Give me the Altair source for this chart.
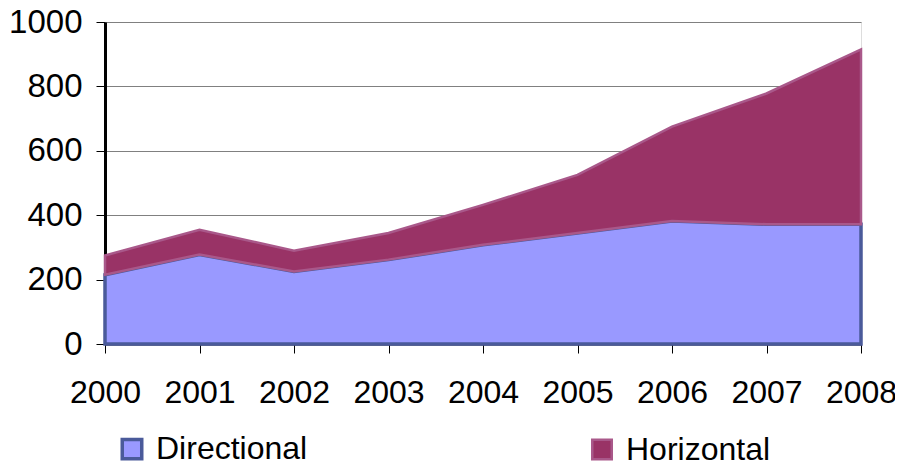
import altair as alt
import pandas as pd

years = [2000, 2001, 2002, 2003, 2004, 2005, 2006, 2007, 2008]
directional = [215, 278, 225, 262, 308, 345, 382, 372, 372]
horizontal = [60, 77, 65, 83, 124, 180, 293, 406, 543]
series = ["Directional", "Horizontal"]
fill_colors = ["#9999FF", "#993366"]
stroke_colors = ["#4A5A9A", "#A9588A"]
stroke_widths = [3.5, 2.5]
y_ticks = [0, 200, 400, 600, 800, 1000]

rows = []
for i, y in enumerate(years):
    rows.append({"year": y, "series": "Directional", "value": directional[i], "order": 0})
    rows.append({"year": y, "series": "Horizontal", "value": horizontal[i], "order": 1})
df = pd.DataFrame(rows)

FONT = "Liberation Sans"

chart = alt.Chart(df).mark_area(strokeJoin="miter").encode(
    x=alt.X("year:Q", scale=alt.Scale(domain=[2000, 2008], nice=False, zero=False),
            axis=alt.Axis(values=years, format="d", title=None, grid=False,
                          labelFontSize=32, labelFont=FONT, labelColor="#000000",
                          tickSize=9, tickColor="#000000", tickWidth=1,
                          domainColor="#000000", domainWidth=2, labelPadding=24,
                          labelFlush=False)),
    y=alt.Y("value:Q", stack="zero", scale=alt.Scale(domain=[0, 1000], nice=False),
            axis=alt.Axis(values=y_ticks, format="d", title=None, grid=True, gridColor="#808080",
                          gridWidth=1, labelFontSize=33, labelFont=FONT, labelColor="#000000",
                          tickSize=9, tickColor="#000000", tickWidth=1,
                          domainColor="#000000", domainWidth=3, labelPadding=14)),
    fill=alt.Fill("series:N", scale=alt.Scale(domain=series, range=fill_colors),
                  legend=alt.Legend(title=None, orient="none", legendX=11, legendY=411,
                                    direction="horizontal", columns=2, columnPadding=278,
                                    symbolType="square", symbolSize=380, symbolStrokeWidth=3,
                                    labelFont=FONT, labelFontSize=32, labelColor="#000000",
                                    labelOffset=8, padding=0)),
    stroke=alt.Stroke("series:N", scale=alt.Scale(domain=series, range=stroke_colors)),
    strokeWidth=alt.StrokeWidth("series:N", scale=alt.Scale(domain=series, range=stroke_widths),
                                legend=None),
    order=alt.Order("order:Q"),
).properties(
    width=756, height=322,
    autosize=alt.AutoSizeParams(type="none"),
    padding={"left": 97, "top": 14, "right": 34, "bottom": 124},
).configure_view(stroke="#000000", strokeWidth=2).configure(background="white")

chart.save("out.html", embed_options={"renderer": "svg", "actions": False})
